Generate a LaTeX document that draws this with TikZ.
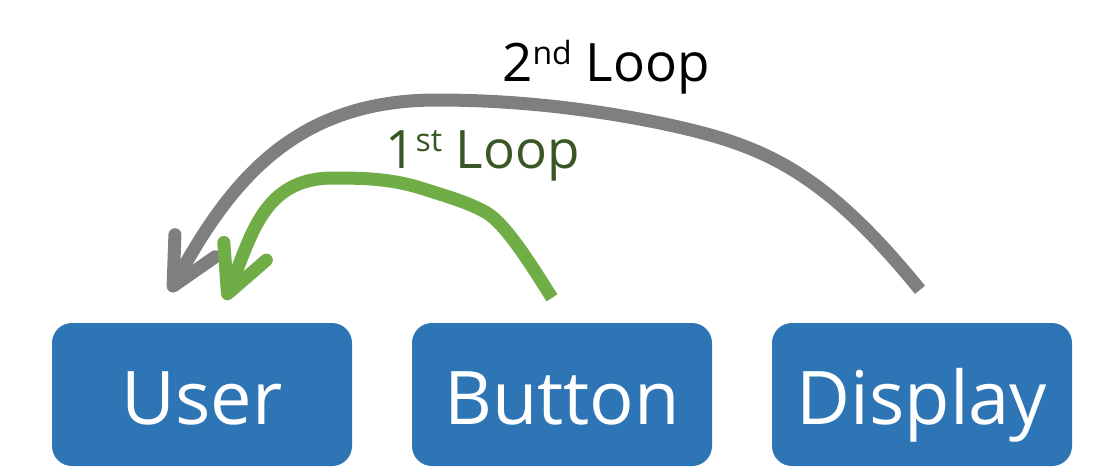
\documentclass[tikz,border=0pt]{standalone}
\usepackage{fontspec}
\setmainfont{Open Sans}
\usetikzlibrary{arrows.meta,calc}
\definecolor{boxblue}{HTML}{2E75B6}
\definecolor{loopgray}{HTML}{7F7F7F}
\definecolor{loopgreen}{HTML}{70AD47}
\definecolor{textgreen}{HTML}{385723}
\newcommand{\supx}[1]{\raisebox{17pt}{\fontsize{32}{32}\selectfont #1}}
\begin{document}
\begin{tikzpicture}[x=1pt,y=-1pt,
  box/.style={fill=boxblue, rounded corners=20pt, minimum width=300pt, minimum height=143pt,
    inner sep=0pt, text=white, font=\fontsize{74}{74}\selectfont, text height=60pt, text depth=0pt},
  lbl/.style={anchor=base west, inner sep=0pt, font=\fontsize{53}{53}\selectfont},
  looparrow/.style={line width=13pt, -{Straight Barb[length=46pt,width=46pt,round]}}
]
\useasboundingbox (0,0) rectangle (1100,467);
\node[box] (User) at (202,394.5) {User};
\node[box] (Button) at (562,394.5) {Button};
\node[box] (Display) at (922,394.5) {Display};

\node[lbl, text=black] (L2) at (502,81) {2\supx{nd} Loop};
\node[lbl, text=textgreen] (L1) at (385,168) {1\supx{st} Loop};

\coordinate (g0) at ($(Display.north)+(-2,-33)$);
\coordinate (g1) at ($(User.north)+(-32,-31)$);
\coordinate (n0) at ($(Button.north)+(-10,-25)$);
\coordinate (n1) at ($(User.north)+(23,-23)$);

\draw[looparrow, draw=loopgray] (g0) .. controls (820,167) and (760,144) .. (660,123)
  .. controls (586,108) and (512,100) .. (437,100)
  .. controls (297,100) and (232,178) .. (g1);
\draw[looparrow, draw=loopgreen] (n0) .. controls (536,273) and (508,226) .. (487,213)
  .. controls (470,203) and (446,196) .. (427,190)
  .. controls (394,179) and (368,178) .. (333,178)
  .. controls (263,178) and (251.6,235.6) .. (n1);
\end{tikzpicture}
\end{document}
